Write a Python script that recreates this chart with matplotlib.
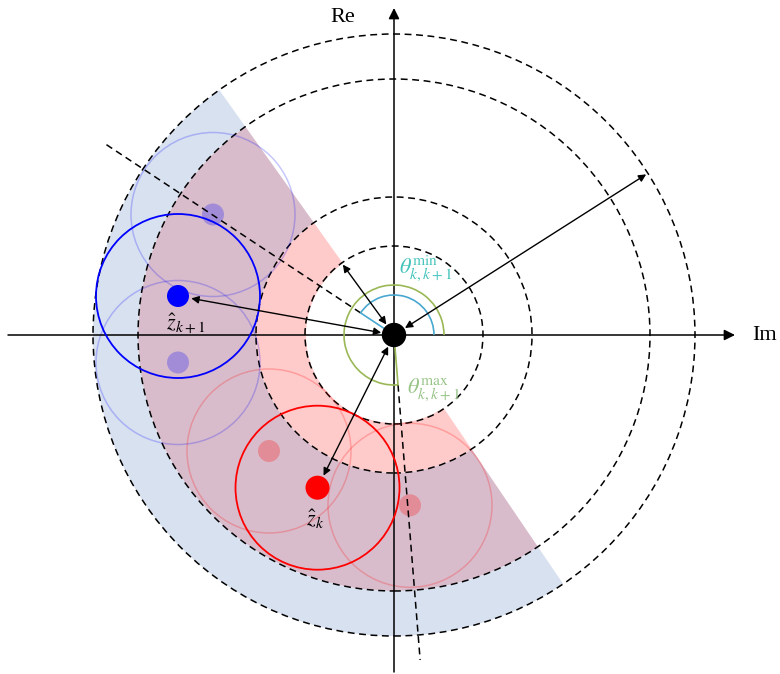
import numpy as np
import matplotlib
matplotlib.use('Agg')
import matplotlib.pyplot as plt
from matplotlib.patches import Circle, Wedge, Arc, FancyArrowPatch

plt.rcParams['font.family'] = 'serif'
plt.rcParams['font.serif'] = ['Liberation Serif', 'DejaVu Serif']
plt.rcParams['mathtext.fontset'] = 'stix'

# dashed reference rings (radius)
ring_radii = [89, 138, 256, 301]

# feasible sectors: (inner r, outer r) and angular limits in degrees
sector_start, sector_end = 125.5, 304.2
red_band = (88, 256)
blue_band = (138, 301)

# estimates (x, y) relative to origin
z_k = (-76.5, -152.7)
z_k1 = (-216, 39)
red_ghosts = [(-125, -116), (16, -170.3)]
blue_ghosts = [(-181, 120.5), (-216, -27.5)]
uncert_r = 82

# angle markers
theta_min_deg = 146.5
theta_max_deg = -85.4

# ring arrows: (angle deg, ring radius)
ring_arrows = [(126.0, 89), (32.5, 301)]


def polar(r, deg):
    a = np.deg2rad(deg)
    return np.array([r * np.cos(a), r * np.sin(a)])


def main():
    fig = plt.figure(figsize=(7.8, 6.74), dpi=100)
    ax = fig.add_axes([0, 0, 1, 1])
    ax.set_xlim(-394, 386)
    ax.set_ylim(-339, 335)
    ax.set_aspect('equal')
    ax.axis('off')

    # shaded bands: pink only / overlap / blue only
    ax.add_patch(Wedge((0, 0), blue_band[0], sector_start, sector_end,
                       width=blue_band[0] - red_band[0], color='#ffcaca', lw=0))
    ax.add_patch(Wedge((0, 0), red_band[1], sector_start, sector_end,
                       width=red_band[1] - blue_band[0], color='#d9bccb', lw=0))
    ax.add_patch(Wedge((0, 0), blue_band[1], sector_start, sector_end,
                       width=blue_band[1] - red_band[1], color='#d8e1f0', lw=0))

    # dashed rings
    for r in ring_radii:
        ax.add_patch(Circle((0, 0), r, fill=False, ls=(0, (4.5, 3)), lw=1.1, color='black'))

    # ghost candidates
    for p in blue_ghosts:
        ax.add_patch(Circle(p, uncert_r, fill=False, color='blue', alpha=0.22, lw=1.1))
        ax.add_patch(Circle(p, 11, color='blue', alpha=0.25, lw=0))
    for p in red_ghosts:
        ax.add_patch(Circle(p, uncert_r, fill=False, color='red', alpha=0.22, lw=1.1))
        ax.add_patch(Circle(p, 11, color='red', alpha=0.25, lw=0))

    # dashed angle lines
    a = polar(40, theta_min_deg); b = polar(347, theta_min_deg)
    ax.plot([a[0], b[0]], [a[1], b[1]], color='black', ls=(0, (4.5, 3)), lw=1.1)
    a = polar(50, theta_max_deg); b = polar(326, theta_max_deg)
    ax.plot([a[0], b[0]], [a[1], b[1]], color='black', ls=(0, (4.5, 3)), lw=1.1)

    # axes
    ax.add_patch(FancyArrowPatch((-386, 0), (341, 0), arrowstyle='-|>',
                                 mutation_scale=16, color='black', lw=1.1,
                                 shrinkA=0, shrinkB=0))
    ax.add_patch(FancyArrowPatch((0, -337), (0, 327), arrowstyle='-|>',
                                 mutation_scale=16, color='black', lw=1.1,
                                 shrinkA=0, shrinkB=0))
    ax.text(-51, 318, 'Re', fontsize=16, ha='center', va='center')
    ax.text(371, -1, 'Im', fontsize=16, ha='center', va='center')

    # angle arcs
    ax.add_patch(Arc((0, 0), 80, 80, theta1=0, theta2=theta_min_deg, color='#4aa8d0', lw=1.2))
    e = polar(40, theta_min_deg)
    ax.plot([0, e[0]], [0, e[1]], color='#4aa8d0', lw=1.2)
    ax.add_patch(Arc((0, 0), 100, 100, theta1=0, theta2=360 + theta_max_deg, color='#9ab855', lw=1.2))
    e = polar(50, theta_max_deg)
    ax.plot([0, e[0]], [0, e[1]], color='#9ab855', lw=1.2)

    # main estimates
    ax.add_patch(Circle(z_k1, uncert_r, fill=False, color='blue', lw=1.3))
    ax.add_patch(Circle(z_k1, 11, color='blue', lw=0))
    ax.add_patch(Circle(z_k, uncert_r, fill=False, color='red', lw=1.3))
    ax.add_patch(Circle(z_k, 12, color='red', lw=0))

    # arrows from origin
    targets = []
    for p in (z_k1, z_k):
        p = np.array(p)
        d = np.hypot(*p)
        targets.append((p / d, d - 13.5))
    for deg, r in ring_arrows:
        u = polar(1, deg)
        targets.append((u, r - 2))
    for u, L in targets:
        ax.add_patch(FancyArrowPatch(tuple(u * 13), tuple(u * L), arrowstyle='<|-|>',
                                     mutation_scale=11, color='black', lw=1.0,
                                     shrinkA=0, shrinkB=0, zorder=5))

    ax.add_patch(Circle((0, 0), 11.5, color='black', zorder=6))

    # labels
    ax.text(z_k1[0] + 8, z_k1[1] - 28, r'$\hat{z}_{k+1}$', fontsize=16, ha='center', va='center')
    ax.text(z_k[0] - 2, z_k[1] - 32, r'$\hat{z}_{k}$', fontsize=16, ha='center', va='center')
    ax.text(5, 67, r'$\theta_{k,k+1}^{\min}$', fontsize=16, color='#45c4bc', ha='left', va='center')
    ax.text(13, -55, r'$\theta_{k,k+1}^{\max}$', fontsize=16, color='#98c488', ha='left', va='center')

    fig.savefig('out.png', dpi=100)


if __name__ == "__main__":
    main()
